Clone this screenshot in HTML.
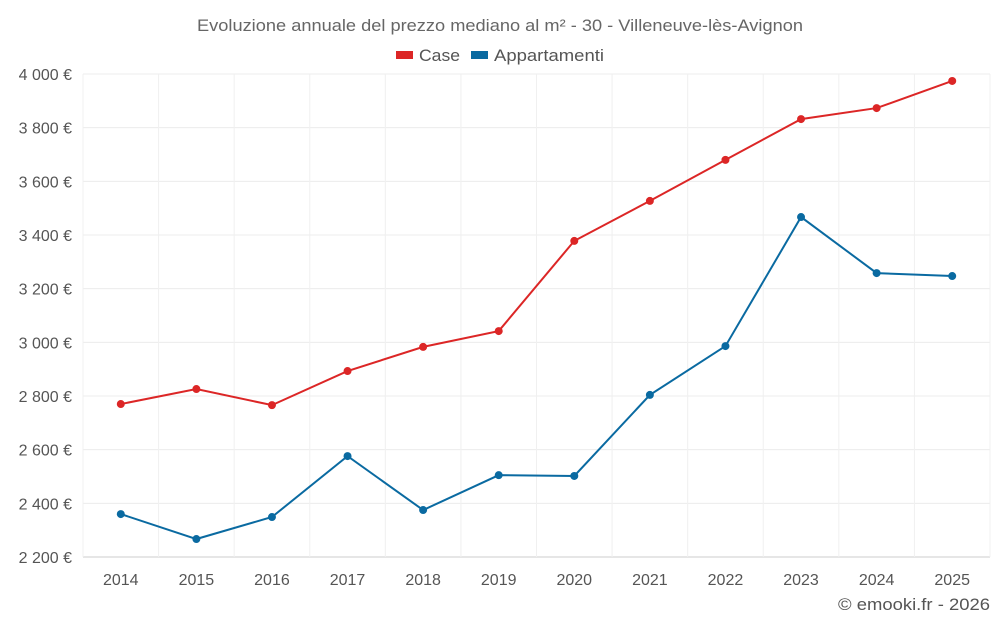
<!DOCTYPE html>
<html><head><meta charset="utf-8"><style>
body{margin:0;background:#fff;font-family:"Liberation Sans",sans-serif;}
svg text{font-family:"Liberation Sans",sans-serif;}
</style></head><body>
<svg id="chart" width="1000" height="625">
<text x="197" y="31" textLength="606" lengthAdjust="spacingAndGlyphs" font-size="17" fill="#666">Evoluzione annuale del prezzo mediano al m² - 30 - Villeneuve-lès-Avignon</text>
<g>
<g><rect x="396" y="51" width="17" height="8" fill="#dc2626"/><text x="419" y="61" font-size="17" textLength="41" lengthAdjust="spacingAndGlyphs" fill="#555">Case</text></g>
<g><rect x="471" y="51" width="17" height="8" fill="#0a6aa1"/><text x="494" y="61" font-size="17" textLength="110" lengthAdjust="spacingAndGlyphs" fill="#555">Appartamenti</text></g>
</g>
<g id="grid"></g><g id="axes"></g><g id="series"></g>
<text x="838" y="610" textLength="152" lengthAdjust="spacingAndGlyphs" font-size="17" fill="#555">© emooki.fr - 2026</text>
</svg>
<script>
const years=[2014,2015,2016,2017,2018,2019,2020,2021,2022,2023,2024,2025];
const casePrices=[2770,2826,2766,2893,2983,3042,3378,3527,3680,3832,3873,3974];
const apartPrices=[2360,2267,2349,2576,2375,2505,2502,2804,2986,3467,3258,3247];
const yTicks=[2200,2400,2600,2800,3000,3200,3400,3600,3800,4000];
const L=83,R=990,T=74,B=557,yMin=2200,yMax=4000;
const step=(R-L)/years.length;
const xs=i=>L+step*(i+0.5);
const ys=v=>B-(v-yMin)/(yMax-yMin)*(B-T);
const NS="http://www.w3.org/2000/svg";
function mk(t,a,p){const e=document.createElementNS(NS,t);for(const k in a)e.setAttribute(k,a[k]);p.appendChild(e);return e;}
const grid=document.getElementById('grid'),axes=document.getElementById('axes'),ser=document.getElementById('series');
const fmt=v=>String(v).replace(/\B(?=(\d{3})+(?!\d))/g," ")+" €";
yTicks.forEach(v=>{
 const l=mk('line',{x1:L,x2:R,y1:ys(v),y2:ys(v),stroke:v===yMin?'#ccc':'#ececec'},grid);
 
 
 const t=mk('text',{x:72,y:ys(v)+6,'text-anchor':'end','font-size':16,fill:'#555'},axes);
 t.textContent=fmt(v);
 
 
});
for(let i=0;i<=years.length;i++){
 const l=mk('line',{x1:L+step*i,x2:L+step*i,y1:T,y2:B,stroke:'#f0f0f0'},grid);
 
 
}
years.forEach((y,i)=>{
 const t=mk('text',{x:xs(i),y:585,'text-anchor':'middle','font-size':16,fill:'#555'},axes);
 t.textContent=y;
 
 
});
function draw(vals,color,name){
 const p=mk('polyline',{points:vals.map((v,i)=>xs(i)+','+ys(v)).join(' '),fill:'none',stroke:color,'stroke-width':2},ser);
 
 
 vals.forEach((v,i)=>{
  const c=mk('circle',{cx:xs(i),cy:ys(v),r:4,fill:color},ser);
  
  
 });
}
draw(casePrices,'#dc2626','case');
draw(apartPrices,'#0a6aa1','appartamenti');
</script>
</body></html>
